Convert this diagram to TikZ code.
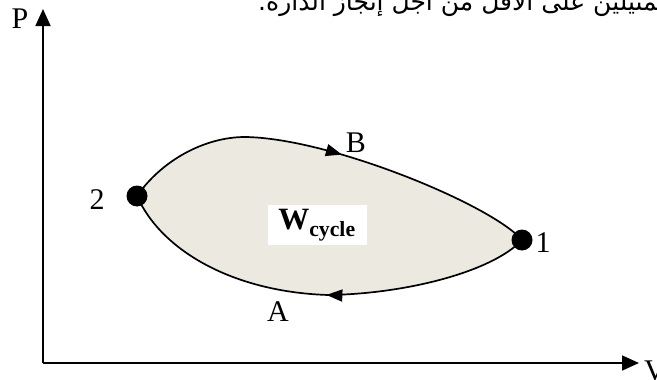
\documentclass[tikz,border=0pt]{standalone}
\usepackage{fontspec}
\setmainfont{Liberation Serif}
\newfontfamily\arabicfont[Script=Arabic]{DejaVu Sans}
\TeXXeTstate=1
\usetikzlibrary{arrows.meta,decorations.markings}

\definecolor{cyclefill}{RGB}{236,234,224}

\tikzset{
	dot/.style={circle, fill=black, inner sep=0pt, minimum size=21pt},
	lbl/.style={font=\fontsize{30}{30}\selectfont, inner sep=0pt},
	axis/.style={line width=1.7pt, -{Triangle[length=17pt,width=15pt]}},
	cyc/.style={line width=1.7pt, line join=round},
	midarrow/.style={postaction={decorate}, decoration={markings,
		mark=at position #1 with {\arrow{Triangle[length=16pt,width=12pt]}}}}
}

\begin{document}
\begin{tikzpicture}[x=1pt, y=-1pt]
	\useasboundingbox (0,0) rectangle (657,380);
	\clip (0,0) rectangle (657,380);
	
	% texte (coupe en haut)
	\node[anchor=base west, inner sep=0pt, font=\arabicfont\fontsize{25}{25}\selectfont] (txt) at (258,10)
		{\beginR تمثيلين على الأقل من أجل إنجاز الدارة.\endR};
	
	% axes
	\coordinate (O) at (43,363);
	\coordinate (Ptip) at (43,9);
	\coordinate (Vtip) at (639,363);
	\draw[axis] (O) -- (Ptip);
	\draw[axis] (O) -- (Vtip);
	\node[lbl] (P) at (20,19) {P};
	\node[lbl, anchor=west] (V) at (644,371) {V};
	
	% points du cycle
	\coordinate (p2) at (137,196);
	\coordinate (p1) at (522,240);
	\coordinate (top) at (245,137);
	\coordinate (bot) at (328,295);
	
	% surface
	\fill[cyclefill] (p2) .. controls (162,160) and (205,137) .. (top)
		.. controls (330,138) and (492,205) .. (p1)
		.. controls (492,272) and (405,294) .. (bot)
		.. controls (235,292) and (162,252) .. (p2) -- cycle;
	
	% courbes B et A
	\draw[cyc, midarrow=0.53] (p2) .. controls (162,160) and (205,137) .. (top)
		.. controls (330,138) and (492,205) .. (p1);
	\draw[cyc, midarrow=0.48] (p1) .. controls (492,272) and (405,294) .. (bot)
		.. controls (235,292) and (162,252) .. (p2);
	
	\node[dot] (d2) at (p2) {};
	\node[dot] (d1) at (p1) {};
	
	% etiquettes
	\node[lbl] (l2) at (97,200) {2};
	\node[lbl] (l1) at (543,243) {1};
	\node[lbl] (lB) at (356,143) {B};
	\node[lbl] (lA) at (278,312) {A};
	\node[fill=white, inner sep=0pt, minimum width=99pt, minimum height=40pt,
		font=\fontsize{31}{31}\selectfont\bfseries] (W) at (317,225)
		{W\textsubscript{cycle}};
\end{tikzpicture}
\end{document}
